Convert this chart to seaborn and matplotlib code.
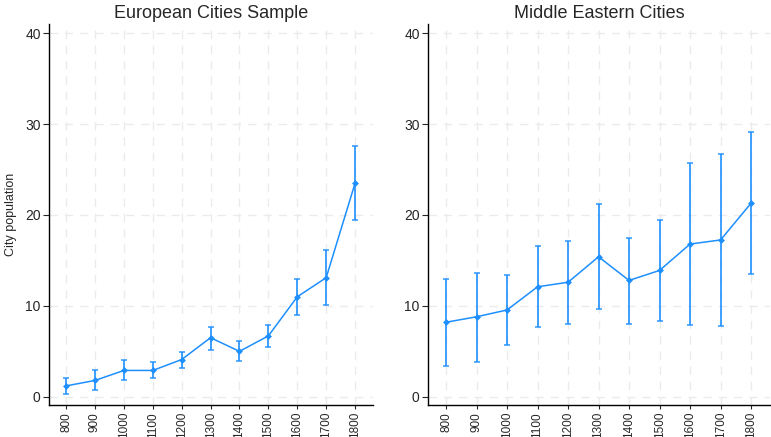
import numpy as np
import pandas as pd
import seaborn as sns
import matplotlib.pyplot as plt

years = [800, 900, 1000, 1100, 1200, 1300, 1400, 1500, 1600, 1700, 1800]

# European cities: mean and confidence bounds
eu_mean = [1.2, 1.8, 2.9, 2.9, 4.1, 6.5, 5.0, 6.7, 11.0, 13.1, 23.5]
eu_low = [0.35, 0.75, 1.8, 2.1, 3.2, 5.2, 3.9, 5.5, 9.0, 10.1, 19.45]
eu_high = [2.05, 2.9, 4.0, 3.8, 4.9, 7.7, 6.1, 7.9, 13.0, 16.1, 27.6]

# Middle Eastern cities
me_mean = [8.2, 8.8, 9.55, 12.1, 12.6, 15.4, 12.8, 13.9, 16.8, 17.25, 21.3]
me_low = [3.4, 3.85, 5.7, 7.65, 8.05, 9.65, 8.05, 8.3, 7.85, 7.8, 13.55]
me_high = [12.95, 13.6, 13.45, 16.6, 17.1, 21.2, 17.5, 19.4, 25.7, 26.7, 29.1]

titles = ["European Cities Sample", "Middle Eastern Cities"]
color = "#1e8fff"

sns.set_style("white")
plt.rcParams['font.family'] = ['Liberation Sans', 'DejaVu Sans']

fig = plt.figure(figsize=(7.71, 4.37), dpi=100)
W, H = 771, 437
ax1 = fig.add_axes([49 / W, 32 / H, 324 / W, 381 / H])
ax2 = fig.add_axes([428 / W, 32 / H, 342 / W, 381 / H])

panels = [(ax1, eu_mean, eu_low, eu_high), (ax2, me_mean, me_low, me_high)]
for i, (ax, mean, low, high) in enumerate(panels):
    df = pd.DataFrame({"year": years, "pop": mean, "low": low, "high": high})
    ax.errorbar(df["year"], df["pop"],
                yerr=[df["pop"] - df["low"], df["high"] - df["pop"]],
                fmt="none", ecolor=color, elinewidth=1.4, capsize=2.5,
                capthick=1.2, alpha=0.85, zorder=2)
    sns.lineplot(data=df, x="year", y="pop", ax=ax, color=color, lw=1.1,
                 marker="D", markersize=3.5, markeredgewidth=0, zorder=3)
    ax.set_xlim(741, 1862)
    ax.set_ylim(-0.9, 41)
    ax.set_xticks(years)
    ax.set_xticklabels([str(y) for y in years], rotation=90, fontsize=8.5)
    ax.set_yticks([0, 10, 20, 30, 40])
    ax.tick_params(axis="y", labelsize=10, length=4, width=0.8, direction="out", left=True, pad=2)
    ax.tick_params(axis="x", length=3, width=0.8, direction="out", bottom=True, pad=2)
    ax.grid(True, color="#ebebeb", linestyle=(0, (6, 5)), linewidth=1)
    ax.set_axisbelow(True)
    for side in ["top", "right"]:
        ax.spines[side].set_visible(False)
    for side in ["left", "bottom"]:
        ax.spines[side].set_color("black")
        ax.spines[side].set_linewidth(1)
    ax.set_title(titles[i], fontsize=13, pad=4)
    ax.set_xlabel("")
    ax.set_ylabel("City population" if i == 0 else "", fontsize=9, labelpad=6)

fig.savefig("out.png", dpi=100)
